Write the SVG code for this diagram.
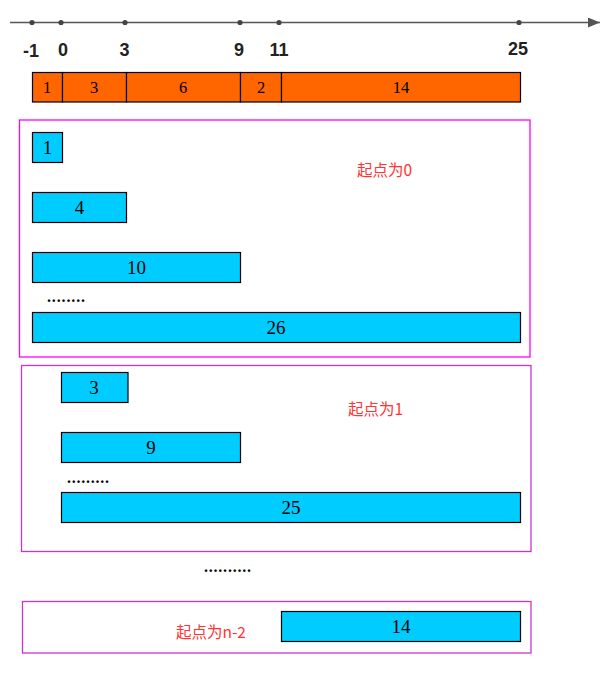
<svg xmlns="http://www.w3.org/2000/svg" width="605" height="680" viewBox="0 0 605 680">
<style>
.ax{font-family:"Liberation Sans",Arial,sans-serif;font-weight:bold;font-size:18px;fill:#222;text-anchor:middle}
.or{fill:#ff6600;stroke:#000;stroke-width:1.2}
.cy{fill:#00ccff;stroke:#000;stroke-width:1.2}
.t{font-family:"Liberation Serif","Times New Roman",serif;font-size:16.5px;fill:#000;text-anchor:middle}
.tc{font-family:"Liberation Serif","Times New Roman",serif;font-size:19px;fill:#000;text-anchor:middle}
.red{font-family:"Noto Sans CJK SC","Noto Sans",sans-serif;font-size:15.5px;fill:#ff3333}
.dots{font-family:"Liberation Serif","Times New Roman",serif;font-size:16px;font-weight:bold;fill:#000}
.box{fill:none;stroke-width:1.3}
</style>
<defs>
<marker id="arr" markerWidth="12" markerHeight="10" refX="12" refY="5" orient="auto" markerUnits="userSpaceOnUse">
<path d="M0,0 L12,5 L0,10 Z" fill="#555"/>
</marker>
</defs>
<g id="connectors">
<line x1="10" y1="22.5" x2="600" y2="22.5" stroke="#555" stroke-width="1.5" marker-end="url(#arr)"/>
</g>
<g id="axis">
<g fill="#444">
<circle cx="32" cy="22.5" r="2.6"/><circle cx="61" cy="22.5" r="2.6"/><circle cx="125" cy="22.5" r="2.6"/>
<circle cx="240" cy="22.5" r="2.6"/><circle cx="279" cy="22.5" r="2.6"/><circle cx="519" cy="22.5" r="2.6"/>
</g>
<text class="ax" x="31" y="57">-1</text>
<text class="ax" x="63" y="56">0</text>
<text class="ax" x="124.5" y="56">3</text>
<text class="ax" x="239" y="56">9</text>
<text class="ax" x="279" y="56">11</text>
<text class="ax" x="518" y="55">25</text>
</g>
<g id="orange">
<rect class="or" x="32.5" y="72.5" width="30" height="29.5"/>
<rect class="or" x="62.5" y="72.5" width="64" height="29.5"/>
<rect class="or" x="126.5" y="72.5" width="114" height="29.5"/>
<rect class="or" x="240.5" y="72.5" width="41" height="29.5"/>
<rect class="or" x="281.5" y="72.5" width="239" height="29.5"/>
<text class="t" x="47" y="93">1</text>
<text class="t" x="94" y="93">3</text>
<text class="t" x="183" y="93">6</text>
<text class="t" x="261" y="93">2</text>
<text class="t" x="401" y="93">14</text>
</g>
<g id="group0">
<rect class="box" x="19.5" y="120" width="510.5" height="237" stroke="#ff00ff"/>
<rect class="cy" x="32.5" y="132.5" width="30" height="30"/>
<text class="tc" x="47.5" y="154">1</text>
<rect class="cy" x="32.5" y="192.5" width="94" height="30"/>
<text class="tc" x="79.5" y="214">4</text>
<rect class="cy" x="32.5" y="252.5" width="208" height="30"/>
<text class="tc" x="136.5" y="274">10</text>
<text class="dots" x="47" y="302" textLength="38" lengthAdjust="spacing">........</text>
<rect class="cy" x="32.5" y="312.5" width="488" height="30"/>
<text class="tc" x="276" y="334">26</text>
<text class="red" x="357" y="176">起点为0</text>
</g>
<g id="group1">
<rect class="box" x="21.5" y="365.5" width="509.5" height="186" stroke="#cc33cc"/>
<rect class="cy" x="61.5" y="372.5" width="66.5" height="30"/>
<text class="tc" x="94" y="394">3</text>
<rect class="cy" x="61.5" y="432.5" width="179" height="30"/>
<text class="tc" x="151" y="454">9</text>
<text class="dots" x="67" y="483" textLength="42" lengthAdjust="spacing">.........</text>
<rect class="cy" x="61.5" y="492.5" width="459" height="30"/>
<text class="tc" x="291" y="514">25</text>
<text class="red" x="348" y="415">起点为1</text>
</g>
<text id="ellipsis" class="dots" x="204" y="572" textLength="47" lengthAdjust="spacing">..........</text>
<g id="groupN">
<rect class="box" x="22.5" y="601.5" width="508.5" height="51.5" stroke="#cc33cc"/>
<rect class="cy" x="281.5" y="611.5" width="239" height="30"/>
<text class="tc" x="401" y="633">14</text>
<text class="red" x="176" y="638">起点为n-2</text>
</g>
</svg>
